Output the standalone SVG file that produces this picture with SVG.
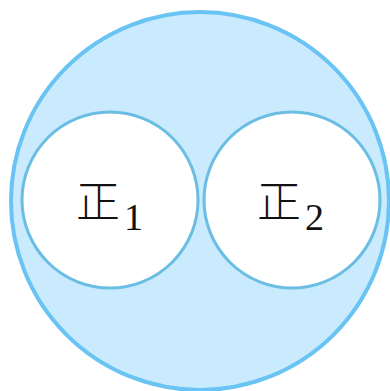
<svg xmlns="http://www.w3.org/2000/svg" width="390" height="391" viewBox="0 0 390 391">
<style>
.outer{fill:#c9ebfd;stroke:#69c3f3;stroke-width:4}
.inner{fill:#ffffff;stroke:#6bbde3;stroke-width:3}
.zh{font-family:"Noto Sans CJK SC","Noto Sans CJK JP",sans-serif;font-size:44px;font-weight:300;fill:#111}
.sub{font-family:"Liberation Serif",serif;font-size:38px;fill:#111}
</style>
<g id="universe"><circle class="outer" cx="200" cy="201" r="189"/></g>
<g id="set1">
<circle class="inner" cx="110" cy="200" r="88"/>
<text class="zh" x="76" y="218">正</text>
<text class="sub" x="124" y="230">1</text>
</g>
<g id="set2">
<circle class="inner" cx="292" cy="200" r="88"/>
<text class="zh" x="257" y="218">正</text>
<text class="sub" x="305" y="230">2</text>
</g>
<g id="connectors"/>
</svg>
